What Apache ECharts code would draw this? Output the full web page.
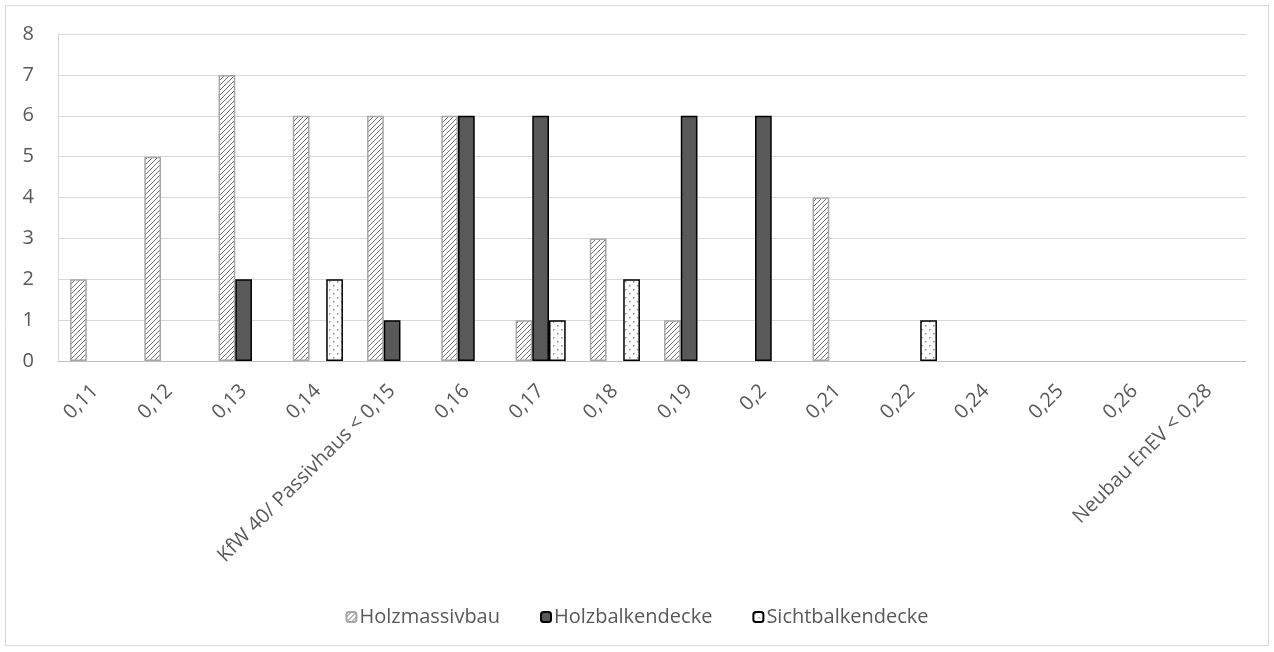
<!DOCTYPE html>
<html>
<head>
<meta charset="utf-8">
<script src="https://cdn.jsdelivr.net/npm/echarts@6/dist/echarts.min.js"></script>
<style>
  html, body { margin: 0; padding: 0; background: #fff; }
  #chart { width: 1274px; height: 652px; }
</style>
</head>
<body>
<div id="chart"></div>
<script>
// U-Wert-Klassen (Kategorien der x-Achse)
const categories = ['0,11', '0,12', '0,13', '0,14', 'KfW 40/ Passivhaus < 0,15', '0,16', '0,17',
  '0,18', '0,19', '0,2', '0,21', '0,22', '0,24', '0,25', '0,26', 'Neubau EnEV < 0,28'];

// Anzahl je Bauweise
const holzmassivbau    = [2, 5, 7, 6, 6, 6, 1, 3, 1, 0, 4, 0, 0, 0, 0, 0];
const holzbalkendecke  = [0, 0, 2, 0, 1, 6, 6, 0, 6, 6, 0, 0, 0, 0, 0, 0];
const sichtbalkendecke = [0, 0, 0, 2, 0, 0, 1, 2, 0, 0, 0, 1, 0, 0, 0, 0];

const seriesNames = ['Holzmassivbau', 'Holzbalkendecke', 'Sichtbalkendecke'];
const yTicks = [0, 1, 2, 3, 4, 5, 6, 7, 8];

// Nullwerte erzeugen keinen sichtbaren Balken (auch keinen Rahmen)
const bars = arr => arr.map(v => (v === 0 ? '-' : v));

// Schraffur: diagonale Linien
function hatchPattern() {
  const c = document.createElement('canvas');
  c.width = 5; c.height = 5;
  const g = c.getContext('2d');
  g.fillStyle = '#ffffff';
  g.fillRect(0, 0, 5, 5);
  g.strokeStyle = '#707070';
  g.lineWidth = 1;
  g.beginPath();
  g.moveTo(0, 5); g.lineTo(5, 0);
  g.moveTo(-2.5, 2.5); g.lineTo(2.5, -2.5);
  g.moveTo(2.5, 7.5); g.lineTo(7.5, 2.5);
  g.stroke();
  return c;
}
// Punktraster
function dotPattern() {
  const c = document.createElement('canvas');
  c.width = 8; c.height = 8;
  const g = c.getContext('2d');
  g.fillStyle = '#ffffff';
  g.fillRect(0, 0, 8, 8);
  g.fillStyle = '#8a8a8a';
  g.fillRect(1, 1, 1.5, 1.5);
  g.fillRect(5, 5, 1.5, 1.5);
  return c;
}

const hatch = { image: hatchPattern(), repeat: 'repeat' };
const dots = { image: dotPattern(), repeat: 'repeat' };

const font = '"Open Sans", "Noto Sans", sans-serif';

const chart = echarts.init(document.getElementById('chart'), null, { renderer: 'canvas' });
chart.setOption({
  animation: false,
  backgroundColor: '#ffffff',
  graphic: [{
    type: 'rect',
    shape: { x: 5.5, y: 5.5, width: 1263, height: 640 },
    style: { fill: 'none', stroke: '#d9d9d9', lineWidth: 1 },
    silent: true
  }],
  grid: { left: 58, right: 28, top: 34, bottom: 291, containLabel: false },
  legend: {
    bottom: 20,
    left: 'center',
    itemWidth: 10,
    itemHeight: 10,
    itemGap: 40,
    textStyle: { fontFamily: font, fontSize: 20, color: '#595959', padding: [0, 0, 0, -2] },
    data: seriesNames
  },
  xAxis: {
    type: 'category',
    data: categories,
    axisLine: { lineStyle: { color: '#bfbfbf', width: 1 } },
    axisTick: { show: false },
    axisLabel: {
      interval: 0,
      rotate: 45,
      margin: 27,
      fontFamily: font,
      fontSize: 20,
      color: '#595959'
    }
  },
  yAxis: {
    type: 'value',
    min: 0,
    max: 8,
    interval: 1,
    axisLine: { show: true, lineStyle: { color: '#d9d9d9' } },
    axisTick: { show: false },
    splitLine: { lineStyle: { color: '#d9d9d9', width: 1 } },
    axisLabel: {
      margin: 24,
      fontFamily: font,
      fontSize: 20,
      color: '#595959',
      formatter: v => yTicks.includes(v) ? String(v) : ''
    }
  },
  series: [
    {
      name: seriesNames[0],
      type: 'bar',
      data: bars(holzmassivbau),
      barWidth: '22.5%',
      barGap: '0%',
      itemStyle: { color: hatch, borderColor: '#a6a6a6', borderWidth: 1.5 }
    },
    {
      name: seriesNames[1],
      type: 'bar',
      data: bars(holzbalkendecke),
      barWidth: '22.5%',
      barGap: '0%',
      itemStyle: { color: '#595959', borderColor: '#000000', borderWidth: 1.5 }
    },
    {
      name: seriesNames[2],
      type: 'bar',
      data: bars(sichtbalkendecke),
      barWidth: '22.5%',
      barGap: '0%',
      itemStyle: { color: dots, borderColor: '#000000', borderWidth: 1.5 }
    }
  ]
});
</script>
</body>
</html>
